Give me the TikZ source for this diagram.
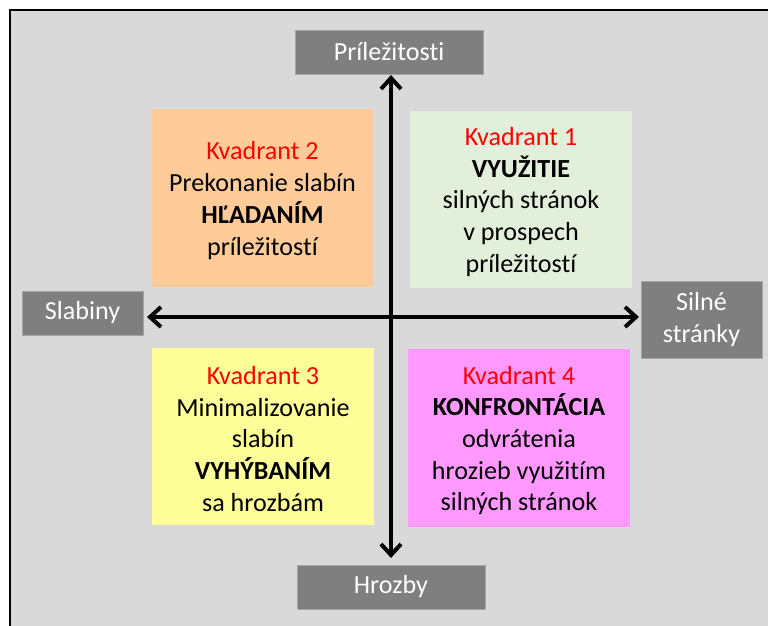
\documentclass[tikz,border=0pt]{standalone}
\usepackage{fontspec}
\setmainfont{Carlito}[Ligatures=CommonOff]
\usetikzlibrary{arrows.meta}
\definecolor{bg}{HTML}{D9D9D9}
\definecolor{labgray}{HTML}{7F7F7F}
\definecolor{labedge}{HTML}{A5A5A5}
\definecolor{qone}{HTML}{E2EFDA}
\definecolor{qtwo}{HTML}{FFCC99}
\definecolor{qthree}{HTML}{FFFF99}
\definecolor{qfour}{HTML}{FF99FF}
\definecolor{qred}{HTML}{FF0000}
\begin{document}
\begin{tikzpicture}[x=1pt,y=-1pt,
  every node/.style={font=\fontsize{26.1}{31.7}\selectfont},
  lab/.style={fill=labgray, draw=labedge, line width=0.8pt, text=white, inner sep=0pt, align=center},
  quadbox/.style={inner sep=0pt},
  quadtext/.style={inner sep=0pt, align=center, text=black},
  ax/.style={line width=4pt, {Straight Barb[length=11pt,width=20pt]}-{Straight Barb[length=11pt,width=20pt]}}]
\useasboundingbox (0,0) rectangle (768,626);
\clip (0,0) rectangle (768,626);
\fill[bg] (10,10) rectangle (780,640);
\draw[line width=2pt] (10,640) -- (10,10) -- (780,10);

\node[lab, minimum width=188pt, minimum height=44pt] (pri) at (389,52) {Príležitosti};
\node[lab, minimum width=188pt, minimum height=44pt] (hro) at (391,587) {Hrozby};
\node[lab, minimum width=121pt, minimum height=44pt] (sla) at (82.5,313) {Slabiny};
\node[lab, minimum width=121pt, minimum height=77pt] (sil) at (701.5,319.5) {Silné\\stránky};

\node[quadbox, fill=qtwo, minimum width=221pt, minimum height=178pt] (q2) at (262.5,198) {};
\node[quadtext] (q2t) at ([yshift=-2.5pt]q2.center)
  {\textcolor{qred}{Kvadrant 2}\\Prekonanie slabín\\\textbf{HĽADANÍM}\\príležitostí};
\node[quadbox, fill=qone, minimum width=222pt, minimum height=177pt] (q1) at (521,199.5) {};
\node[quadtext] (q1t) at ([yshift=-2.5pt]q1.center)
  {\textcolor{qred}{Kvadrant 1}\\\textbf{VYUŽITIE}\\silných stránok\\v prospech\\príležitostí};
\node[quadbox, fill=qthree, minimum width=222pt, minimum height=177pt] (q3) at (263,436.5) {};
\node[quadtext] (q3t) at ([yshift=-2.5pt]q3.center)
  {\textcolor{qred}{Kvadrant 3}\\Minimalizovanie\\slabín\\\textbf{VYHÝBANÍM}\\sa hrozbám};
\node[quadbox, fill=qfour, minimum width=222pt, minimum height=178pt] (q4) at (519,438) {};
\node[quadtext] (q4t) at ([yshift=-2.5pt]q4.center)
  {\textcolor{qred}{Kvadrant 4}\\\textbf{KONFRONTÁCIA}\\odvrátenia\\hrozieb využitím\\silných stránok};

\coordinate (vt) at (391,75);
\coordinate (vb) at (391,558);
\coordinate (hl) at (147,317);
\coordinate (hr) at (639,317);
\draw[ax] (vb) -- (vt);
\draw[ax] (hl) -- (hr);
\end{tikzpicture}
\end{document}
